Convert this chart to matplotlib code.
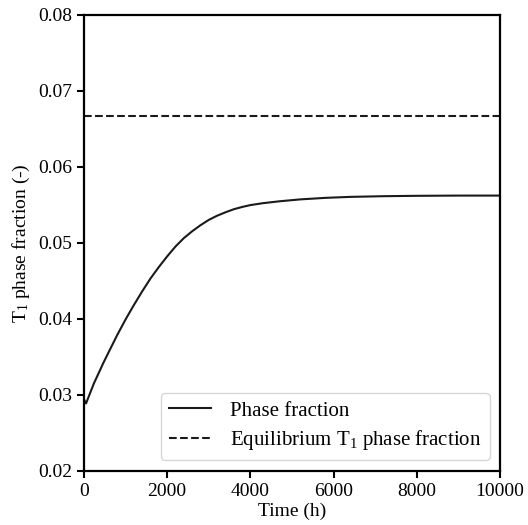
import numpy as np
import matplotlib
matplotlib.use("Agg")
import matplotlib.pyplot as plt

plt.rcParams['font.family'] = ['Liberation Serif', 'DejaVu Serif']
plt.rcParams['mathtext.fontset'] = 'custom'
plt.rcParams['mathtext.rm'] = 'Liberation Serif'
plt.rcParams['mathtext.it'] = 'Liberation Serif:italic'
plt.rcParams['mathtext.bf'] = 'Liberation Serif:bold'

time_h = [0, 50, 240, 480, 800, 1000, 1200, 1400, 1600, 1800, 2000, 2200,
          2400, 2600, 2800, 3000, 3200, 3400, 3600, 3800, 4000, 4300, 4700,
          5200, 5800, 6400, 7200, 8000, 9000, 9950]
phase_fraction = [0.0294, 0.02885, 0.0315, 0.03434, 0.03786, 0.0399, 0.0418,
                  0.0436, 0.0453, 0.0468, 0.0482, 0.0495, 0.0506, 0.0515,
                  0.0523, 0.0530, 0.05355, 0.0540, 0.0544, 0.0547, 0.05495,
                  0.0552, 0.05545, 0.0557, 0.0559, 0.05603, 0.05612, 0.05617,
                  0.0562, 0.0562]
equilibrium_fraction = 0.0667

xticks = [0, 2000, 4000, 6000, 8000, 10000]
yticks = [0.02, 0.03, 0.04, 0.05, 0.06, 0.07, 0.08]

fig = plt.figure(figsize=(5.28, 5.25), dpi=100)
ax = fig.add_axes([0.159, 0.1034, 0.788, 0.8686])

ax.plot(time_h, phase_fraction, color='#1a1a1a', lw=1.5, label='Phase fraction')
ax.axhline(equilibrium_fraction, color='#1a1a1a', lw=1.5, ls='--',
           label=r'Equilibrium T$_1$ phase fraction')

ax.set_xlim(0, 10000)
ax.set_ylim(0.02, 0.08)
ax.set_xticks(xticks)
ax.set_yticks(yticks)
ax.set_xticklabels([str(v) for v in xticks])
ax.set_yticklabels([f"{v:.2f}" for v in yticks])
ax.tick_params(labelsize=14, width=1.5, length=5, direction='out')
for s in ax.spines.values():
    s.set_linewidth(1.6)
ax.set_xlabel('Time (h)', fontsize=14, labelpad=2)
ax.set_ylabel(r'T$_1$ phase fraction (-)', fontsize=14, labelpad=4)
ax.legend(loc='lower right', fontsize=15, frameon=True, labelspacing=0.35,
          handletextpad=0.9)

fig.savefig('out.png', dpi=100)
